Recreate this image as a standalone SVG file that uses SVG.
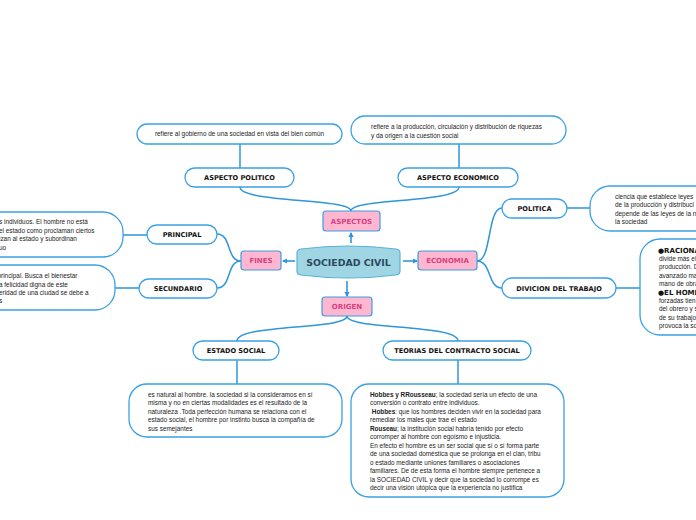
<svg xmlns="http://www.w3.org/2000/svg" width="696" height="520" viewBox="0 0 696 520">
<style>
.bg{fill:#ffffff}
.con{fill:none;stroke:#2f96da;stroke-width:1.5;stroke-linecap:round}
.arr{fill:none;stroke:#2f96da;stroke-width:1.6}
.pink{fill:#ffb6d1;stroke:#3d9de0;stroke-width:1.2}
.pt{font-family:"DejaVu Sans",Verdana,sans-serif;font-weight:bold;font-size:7px;fill:#d6427f;text-anchor:middle}
.lab{fill:#ffffff;stroke:#3aa0e4;stroke-width:1.3}
.lt{font-family:"DejaVu Sans",Verdana,sans-serif;font-weight:bold;font-size:6.6px;fill:#111111;text-anchor:middle}
.tb{fill:#ffffff;stroke:#3aa0e4;stroke-width:1.3}
.bt{font-family:"Liberation Sans",Arial,sans-serif;font-size:6.4px;fill:#222222}
.bb{font-weight:bold}
.bul{font-family:"DejaVu Sans",Verdana,sans-serif;font-weight:bold;font-size:7px;fill:#111111}
</style>
<defs>
<marker id="ah" viewBox="0 0 10 10" refX="8" refY="5" markerWidth="5.5" markerHeight="5.5" orient="auto-start-reverse" markerUnits="userSpaceOnUse">
<path d="M0,0 L10,5 L0,10 Z" fill="#2f96da"/>
</marker>
</defs>
<rect class="bg" x="0" y="0" width="696" height="520"/>

<g id="connectors">
<path class="con" d="M351,211 C351,198 240,203 240,187"/>
<path class="con" d="M351,211 C351,198 459,203 459,187"/>
<path class="con" d="M347,316 C347,330 237,324 237,341"/>
<path class="con" d="M347,316 C347,330 458,324 458,341"/>
<path class="con" d="M241,261 C226,261 232,234 217,234"/>
<path class="con" d="M241,261 C226,261 232,288 217,288"/>
<path class="con" d="M477,261 C492,261 487,208 502,208"/>
<path class="con" d="M477,261 C492,261 487,288 502,288"/>
<path class="con" d="M240,144 L240,168"/>
<path class="con" d="M459,144 L459,168"/>
<path class="con" d="M237,361 L237,384"/>
<path class="con" d="M458,360 L458,384"/>
<path class="con" d="M123,235 C135,235 135,235 147,235"/>
<path class="con" d="M115,288 C127,288 127,288 139,288"/>
<path class="con" d="M567,208 L590,208"/>
<path class="con" d="M616,288 L641,288"/>
<path class="arr" d="M351,243 L351,233" marker-end="url(#ah)"/>
<path class="arr" d="M295,261 L283,261" marker-end="url(#ah)"/>
<path class="arr" d="M403,261 L417,261" marker-end="url(#ah)"/>
<path class="arr" d="M347,281 L347,296" marker-end="url(#ah)"/>
</g>

<g id="sociedad-civil">
<path d="M301,249 Q348,243 396,249 Q400,249.5 400,253 L400,271 Q400,274.5 396,275 Q348,281 301,275 Q297,274.5 297,271 L297,253 Q297,249.5 301,249 Z" fill="#a0d5e4" stroke="#5ab2d6" stroke-width="1.2"/>
<text x="348.5" y="265.5" font-family="'DejaVu Sans',Verdana,sans-serif" font-weight="bold" font-size="9.4px" fill="#2b4a5c" text-anchor="middle">SOCIEDAD CIVIL</text>
</g>

<g id="aspectos">
<rect class="pink" x="323" y="211" width="57" height="20" rx="3"/>
<text class="pt" x="351.5" y="223.5">ASPECTOS</text>
</g>
<g id="fines">
<rect class="pink" x="241" y="251" width="40" height="19" rx="3"/>
<text class="pt" x="261" y="263">FINES</text>
</g>
<g id="economia">
<rect class="pink" x="418" y="251" width="59" height="19" rx="3"/>
<text class="pt" x="447.5" y="263">ECONOMIA</text>
</g>
<g id="origen">
<rect class="pink" x="322" y="297" width="50" height="19" rx="3"/>
<text class="pt" x="347" y="309">ORIGEN</text>
</g>

<g id="aspecto-politico">
<rect class="lab" x="185" y="168" width="109" height="19" rx="9.5"/>
<text class="lt" x="239.5" y="180.3">ASPECTO POLITICO</text>
</g>
<g id="aspecto-politico-texto">
<rect class="tb" x="137" y="124" width="205" height="20" rx="10"/>
<text class="bt" x="239.5" y="136.3" text-anchor="middle">refiere al gobierno de una sociedad en vista del bien común</text>
</g>
<g id="aspecto-economico">
<rect class="lab" x="398" y="168" width="120" height="19" rx="9.5"/>
<text class="lt" x="458" y="180.3">ASPECTO ECONOMICO</text>
</g>
<g id="aspecto-economico-texto">
<rect class="tb" x="351" y="116" width="215" height="28" rx="14"/>
<text class="bt" x="371" y="129">refiere a la producción, circulación y distribución de riquezas</text>
<text class="bt" x="371" y="137.5">y da origen a la cuestión social</text>
</g>

<g id="principal">
<rect class="lab" x="147" y="225" width="70" height="19" rx="9.5"/>
<text class="lt" x="182" y="237.3">PRINCIPAL</text>
</g>
<g id="principal-texto">
<rect class="tb" x="-40" y="212" width="163" height="45" rx="20"/>
<text class="bt" x="-1" y="223.5">s individuos. El hombre no está</text>
<text class="bt" x="-1" y="232.5">el estado como proclaman ciertos</text>
<text class="bt" x="-1" y="240.5">izan al estado y subordinan</text>
<text class="bt" x="-1" y="249.5">uo</text>
</g>
<g id="secundario">
<rect class="lab" x="139" y="279" width="78" height="19" rx="9.5"/>
<text class="lt" x="178" y="291.3">SECUNDARIO</text>
</g>
<g id="secundario-texto">
<rect class="tb" x="-40" y="265" width="155" height="45" rx="20"/>
<text class="bt" x="-2.5" y="278">principal. Busca el bienestar</text>
<text class="bt" x="-1" y="286.5">a felicidad digna de este</text>
<text class="bt" x="-1" y="294.5">eridad de una ciudad se debe a</text>
<text class="bt" x="-1" y="302.5">s</text>
</g>

<g id="politica">
<rect class="lab" x="502" y="199" width="65" height="19" rx="9.5"/>
<text class="lt" x="534.5" y="211.3">POLITICA</text>
</g>
<g id="politica-texto">
<rect class="tb" x="590" y="186" width="140" height="45" rx="20"/>
<text class="bt" x="615" y="198.5">ciencia que establece leyes</text>
<text class="bt" x="615" y="207">de la producción y distribuci</text>
<text class="bt" x="615" y="215.5">depende de las leyes de la n</text>
<text class="bt" x="615" y="224">la sociedad</text>
</g>
<g id="divicion-del-trabajo">
<rect class="lab" x="502" y="278" width="114" height="20" rx="10"/>
<text class="lt" x="559" y="290.5">DIVICION DEL TRABAJO</text>
</g>
<g id="divicion-texto">
<rect class="tb" x="640" y="239" width="100" height="96" rx="20"/>
<text class="bul" x="658" y="252.5">●RACIONA</text>
<text class="bt" x="659" y="260.5">divide más el</text>
<text class="bt" x="659" y="269">producción. D</text>
<text class="bt" x="659" y="277.5">avanzado ma</text>
<text class="bt" x="659" y="286">mano de obra</text>
<text class="bul" x="658" y="294.5">●EL HOMB</text>
<text class="bt" x="659" y="302.5">forzadas tien</text>
<text class="bt" x="659" y="311">del obrero y s</text>
<text class="bt" x="659" y="319.5">de su trabajo</text>
<text class="bt" x="659" y="328">provoca la so</text>
</g>

<g id="estado-social">
<rect class="lab" x="193" y="341" width="86" height="19" rx="9.5"/>
<text class="lt" x="236" y="353.3">ESTADO SOCIAL</text>
</g>
<g id="estado-social-texto">
<rect class="tb" x="129" y="384" width="213" height="53" rx="18"/>
<text class="bt" x="148" y="396.5">es natural al hombre. la sociedad si la consideramos en sí</text>
<text class="bt" x="148" y="405">misma y no en ciertas modalidades es el resultado de la</text>
<text class="bt" x="148" y="413.5">naturaleza .Toda perfección humana se relaciona con el</text>
<text class="bt" x="148" y="422">estado social, el hombre por instinto busca la compañía de</text>
<text class="bt" x="148" y="430.5">sus semejantes</text>
</g>

<g id="teorias">
<rect class="lab" x="383" y="341" width="148" height="19" rx="9.5"/>
<text class="lt" x="457" y="353.3">TEORIAS DEL CONTRACTO SOCIAL</text>
</g>
<g id="teorias-texto">
<rect class="tb" x="351" y="384" width="213" height="113" rx="18"/>
<text class="bt" x="370" y="396.5"><tspan class="bb">Hobbes y RRousseau</tspan>; la sociedad sería un efecto de una</text>
<text class="bt" x="370" y="405">conversión o contrato entre individuos.</text>
<text class="bt" x="371.8" y="413.5"><tspan class="bb">Hobbes</tspan>: que los hombres deciden vivir en la sociedad para</text>
<text class="bt" x="370" y="422">remediar los males que trae el estado</text>
<text class="bt" x="370" y="430.5"><tspan class="bb">Rouseau</tspan>; la institución social habría tenido por efecto</text>
<text class="bt" x="370" y="439">corromper al hombre con egoísmo e injusticia.</text>
<text class="bt" x="370" y="447.5">En efecto el hombre es un ser social que sí o sí forma parte</text>
<text class="bt" x="370" y="456">de una sociedad doméstica que se prolonga en el clan, tribu</text>
<text class="bt" x="370" y="464.5">o estado mediante uniones familiares o asociaciones</text>
<text class="bt" x="370" y="473">familiares. De de esta forma el hombre siempre pertenece a</text>
<text class="bt" x="370" y="481.5">la SOCIEDAD CIVIL y decir que la sociedad lo corrompe es</text>
<text class="bt" x="370" y="490">decir una visión utópica que la experiencia no justifica</text>
</g>
</svg>
